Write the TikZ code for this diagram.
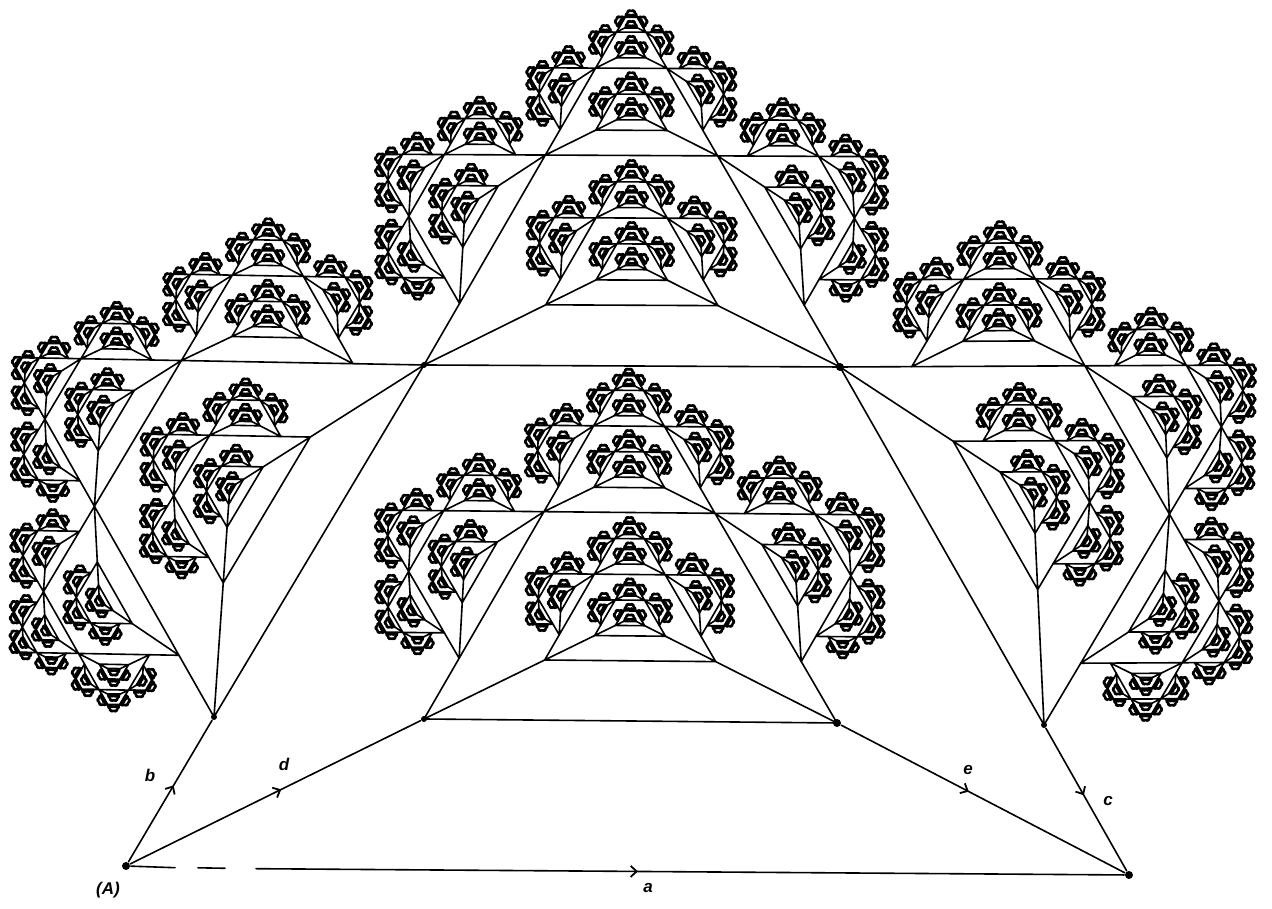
\documentclass[tikz,border=0pt]{standalone}
\usepackage{fontspec}
\setmainfont{Liberation Sans}
\usetikzlibrary{arrows.meta,decorations.markings}
\tikzset{
  inkline/.style={line width=1.6pt,line cap=round,line join=round},
  dotnode/.style={circle,fill=black,inner sep=0pt,minimum size=8pt},
  smalldot/.style={circle,fill=black,inner sep=0pt,minimum size=6pt},
  hand/.style={font=\fontsize{17}{17}\selectfont\itshape\bfseries,inner sep=0pt},
  barbat/.style={postaction={decorate},decoration={markings,mark=at position #1 with {\arrow{Straight Barb[length=6pt,width=11pt,line width=1.8pt]}}}}
}
% point in the frame of segment P-Q
\def\ptx#1#2{\dimexpr\px+\ux*#1/10000-\uy*#2/10000\relax}
\def\pty#1#2{\dimexpr\py+\uy*#1/10000+\ux*#2/10000\relax}
\newcount\fraclevel
\def\fractree#1#2#3#4#5{%
 \begingroup
  \edef\px{#2}\edef\py{#3}\edef\qx{#4}\edef\qy{#5}%
  \edef\ux{\the\dimexpr\qx-\px\relax}\edef\uy{\the\dimexpr\qy-\py\relax}%
  \edef\bx{\the\ptx{858}{1486}}\edef\by{\the\pty{858}{1486}}%
  \edef\cx{\the\ptx{9142}{1486}}\edef\cy{\the\pty{9142}{1486}}%
  \edef\dx{\the\ptx{2929}{1464}}\edef\dy{\the\pty{2929}{1464}}%
  \edef\ex{\the\ptx{7071}{1464}}\edef\ey{\the\pty{7071}{1464}}%
  \edef\sx{\the\ptx{2929}{5073}}\edef\sy{\the\pty{2929}{5073}}%
  \edef\tx{\the\ptx{7071}{5073}}\edef\ty{\the\pty{7071}{5073}}%
  \pgfpathmoveto{\pgfqpoint{\px}{\py}}\pgfpathlineto{\pgfqpoint{\qx}{\qy}}%
  \pgfpathmoveto{\pgfqpoint{\px}{\py}}\pgfpathlineto{\pgfqpoint{\bx}{\by}}%
  \pgfpathmoveto{\pgfqpoint{\px}{\py}}\pgfpathlineto{\pgfqpoint{\dx}{\dy}}%
  \pgfpathmoveto{\pgfqpoint{\qx}{\qy}}\pgfpathlineto{\pgfqpoint{\cx}{\cy}}%
  \pgfpathmoveto{\pgfqpoint{\qx}{\qy}}\pgfpathlineto{\pgfqpoint{\ex}{\ey}}%
  \ifnum#1=0 \pgfsetlinewidth{2.3pt}\fi
  \ifnum#1=1 \pgfsetlinewidth{2pt}\fi
  \ifnum#1>1 \pgfsetlinewidth{1.6pt}\fi
  \pgfusepath{stroke}%
  \ifnum#1>0
    \fraclevel=#1 \advance\fraclevel by -1
    \edef\nl{\the\fraclevel}%
    \expandafter\fractree\expandafter{\nl}{\dx}{\dy}{\ex}{\ey}%
    \expandafter\fractree\expandafter{\nl}{\sx}{\sy}{\tx}{\ty}%
    \expandafter\fractree\expandafter{\nl}{\bx}{\by}{\sx}{\sy}%
    \expandafter\fractree\expandafter{\nl}{\tx}{\ty}{\cx}{\cy}%
  \fi
 \endgroup}
\begin{document}
\begin{tikzpicture}[x=1pt,y=1pt,inkline]
\useasboundingbox (0,0) rectangle (1272,909);
\fill[white] (0,0) rectangle (1272,909);
\begin{scope}[cm={.413,-.004,-.002,.411,(424,190)}]
  \fractree{5}{0pt}{0pt}{1000pt}{0pt}
\end{scope}
\begin{scope}[cm={.416,-.002,-.001,.415,(424,544)}]
  \fractree{5}{0pt}{0pt}{1000pt}{0pt}
\end{scope}
\begin{scope}[cm={.210,.352,-.357,.212,(214,192)}]
  \fractree{5}{0pt}{0pt}{1000pt}{0pt}
\end{scope}
\begin{scope}[cm={.204,-.358,.365,.209,(840,542)}]
  \fractree{5}{0pt}{0pt}{1000pt}{0pt}
\end{scope}
\pgfsetlinewidth{1.6pt}
\node[dotnode] (nA) at (126,43) {};
\node[dotnode] (nB) at (1129,34) {};
\node[smalldot] (nb) at (214,192) {};
\node[smalldot] (nc) at (1044,184) {};
\node[smalldot] (nd) at (424,190) {};
\node[dotnode] (ne) at (837,186) {};
\node[smalldot] (ns) at (424,544) {};
\node[dotnode] (nt) at (840,542) {};
% base connectors with their arrow marks
\coordinate (g1) at (175,41.3);
\coordinate (g2) at (198,41.2);
\coordinate (g3) at (225,40.7);
\coordinate (g4) at (256,40.3);
\draw (nA) -- (g1);
\draw (g2) -- (g3);
\draw[barbat=0.44] (g4) -- (nB);
\draw[barbat=0.54] (nA) -- (nb);
\draw[barbat=0.52] (nA) -- (nd);
\draw[barbat=0.45] (ne) -- (nB);
\draw[barbat=0.47] (nc) -- (nB);
\node[hand] (la) at (648,21) {a};
\node[hand] (lb) at (150,134) {b};
\node[hand] (lc) at (1108,108) {c};
\node[hand] (ld) at (284,145) {d};
\node[hand] (le) at (968,139) {e};
\node[hand] (lA) at (108,19) {(A)};
\end{tikzpicture}
\end{document}
